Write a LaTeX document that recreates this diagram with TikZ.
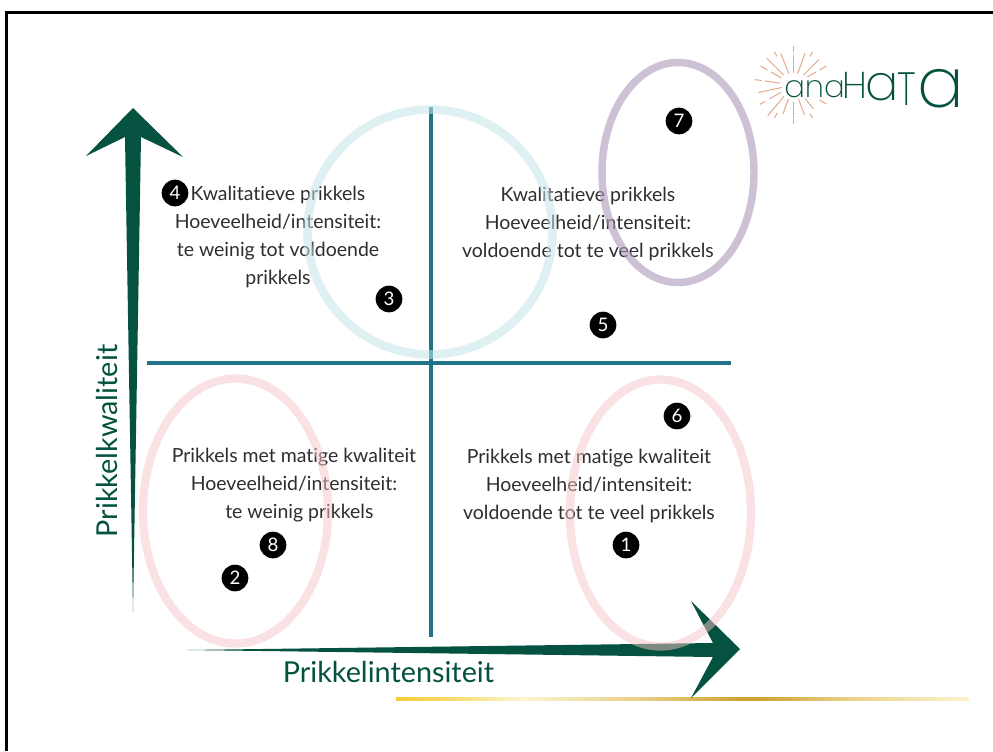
\documentclass[tikz,border=0pt]{standalone}
\usepackage{fontspec}
\usepackage{graphicx}
\setmainfont{Lato}[Ligatures=NoCommon]
\newfontfamily\logofont[RawFeature={+salt}]{Poppins ExtraLight}
\usetikzlibrary{calc}
\definecolor{axisgreen}{HTML}{04523F}
\definecolor{crossteal}{HTML}{1F7488}
\definecolor{bodygray}{HTML}{2E2E2E}
\definecolor{rayorange}{HTML}{E2A98B}
\definecolor{pinkring}{RGB}{246,196,200}
\definecolor{bluering}{RGB}{197,229,233}
\definecolor{purplering}{RGB}{172,152,186}
\pgfdeclarehorizontalshading{goldfade}{100bp}{rgb(0bp)=(0.96,0.80,0.20); rgb(25bp)=(0.96,0.80,0.20); rgb(30bp)=(0.97,0.86,0.45); rgb(36bp)=(0.99,0.96,0.82); rgb(47bp)=(0.90,0.80,0.50); rgb(56bp)=(0.80,0.62,0.18); rgb(65bp)=(0.92,0.83,0.55); rgb(75bp)=(0.99,0.95,0.80); rgb(100bp)=(0.99,0.95,0.80)}
\tikzset{
  x=0.75pt,y=-0.75pt,
  frameline/.style={black,line width=2.25pt},
  crossline/.style={crossteal,line width=3pt},
  ring/.style={draw,line width=#1,fill=none},
  badge/.style={circle,fill=black,text=white,inner sep=0pt,minimum size=20pt,font=\fontsize{14}{14}\selectfont},
  quad/.style={text=bodygray,align=center,font=\fontsize{14.6}{21}\selectfont},
  axislabel/.style={text=axisgreen,font=\fontsize{21.6}{26}\selectfont,inner sep=0pt},
  logotext/.style={text=axisgreen,inner sep=0pt,anchor=base west},
  ray/.style={rayorange,line width=0.75pt}
}
\begin{document}
\begin{tikzpicture}
\useasboundingbox (0,0) rectangle (993,751);
\fill[white] (0,0) rectangle (993,751);
% frame
\coordinate (fa) at (6.5,751); \coordinate (fb) at (6.5,12.5); \coordinate (fc) at (993,12.5);
\draw[frameline] (fa) -- (fb) -- (fc);
% gold line
\shade[shading=goldfade] (396,697.5) rectangle (969,700.5);
% arrows
\fill[axisgreen] (133,108) -- (183,157) -- (141,137) -- (133,612) -- (125,137) -- (86,156) -- cycle;
\fill[axisgreen] (187,650) -- (713,643) -- (691,601) -- (740,649) -- (691,698) -- (713,657) -- cycle;
% cross
\coordinate (ha) at (147,363); \coordinate (hb) at (731,363);
\coordinate (va) at (430.5,107); \coordinate (vb) at (430.5,637);
\draw[crossline] (ha) -- (hb);
\draw[crossline] (va) -- (vb);
% quadrant text
\node[quad] (tl) at (278,237) {Kwalitatieve prikkels\\Hoeveelheid/intensiteit:\\te weinig tot voldoende\\prikkels};
\node[quad] (tr) at (588,223.5) {Kwalitatieve prikkels\\Hoeveelheid/intensiteit:\\voldoende tot te veel prikkels};
\node[quad] (bl) at (294,485.5) {Prikkels met matige kwaliteit\\Hoeveelheid/intensiteit:\\\hspace*{8pt}te weinig prikkels};
\node[quad] (br) at (589,485.5) {Prikkels met matige kwaliteit\\Hoeveelheid/intensiteit:\\voldoende tot te veel prikkels};
% rings
\draw[ring=6.4pt,bluering,opacity=.55] (430,232) ellipse [x radius=122.5,y radius=122.5];
\draw[ring=5.6pt,purplering,opacity=.6] (678,172.5) ellipse [x radius=76,y radius=110];
\draw[ring=6.2pt,pinkring,opacity=.5] (235.5,511) ellipse [x radius=92.5,y radius=132.5];
\draw[ring=6.2pt,pinkring,opacity=.5] (660.5,513) ellipse [x radius=90.5,y radius=133.5];
% axis labels
\node[axislabel,rotate=90] (ylab) at (107,441) {Prikkelkwaliteit};
\node[axislabel] (xlab) at (388.5,672) {Prikkelintensiteit};
% badges
\node[badge] (n7) at (679,121) {7};
\node[badge] (n4) at (175,193) {4};
\node[badge] (n3) at (389,299) {3};
\node[badge] (n5) at (603,325) {5};
\node[badge] (n6) at (677,416) {6};
\node[badge] (n1) at (626,545) {1};
\node[badge] (n8) at (273,545) {8};
\node[badge] (n2) at (235,578) {2};
% logo rays
\coordinate (sun) at (793.5,85);
\foreach \a/\ra/\rb in {90/33/39,90/12/30,70/12/34,112/12/34,135/14/38,45/14/36,
  150/14/26,150/30/38,172/14/29,172/32/39,30/14/26,30/30/38,
  192/12/36,210/14/28,210/33/39,230/14/40,250/14/31,270/17/33,270/34/39,290/14/32,
  310/14/31,330/14/26,330/30/38,240/32/38,300/33/38,120/33/38,60/33/38}{
  \draw[ray] ($(sun)+(\a:\ra*0.75pt)$) -- ($(sun)+(\a:\rb*0.75pt)$);
}
\fill[white,opacity=.9] (784,77) rectangle (840,99);
% logo text
\node[logotext] (la) at (784,97) {\logofont\fontsize{23}{23}\selectfont ana};
\node[logotext] (lh) at (842,98) {\logofont\fontsize{28}{28}\selectfont H};
\node[logotext] (lb) at (865,100) {\logofont\fontsize{37}{37}\selectfont a};
\node[logotext] (lt) at (897.5,105) {\logofont\fontsize{35}{35}\selectfont\scalebox{.8}[1]{T}};
\node[logotext] (lc) at (917,107) {\logofont\fontsize{52}{52}\selectfont a};
\end{tikzpicture}
\end{document}
